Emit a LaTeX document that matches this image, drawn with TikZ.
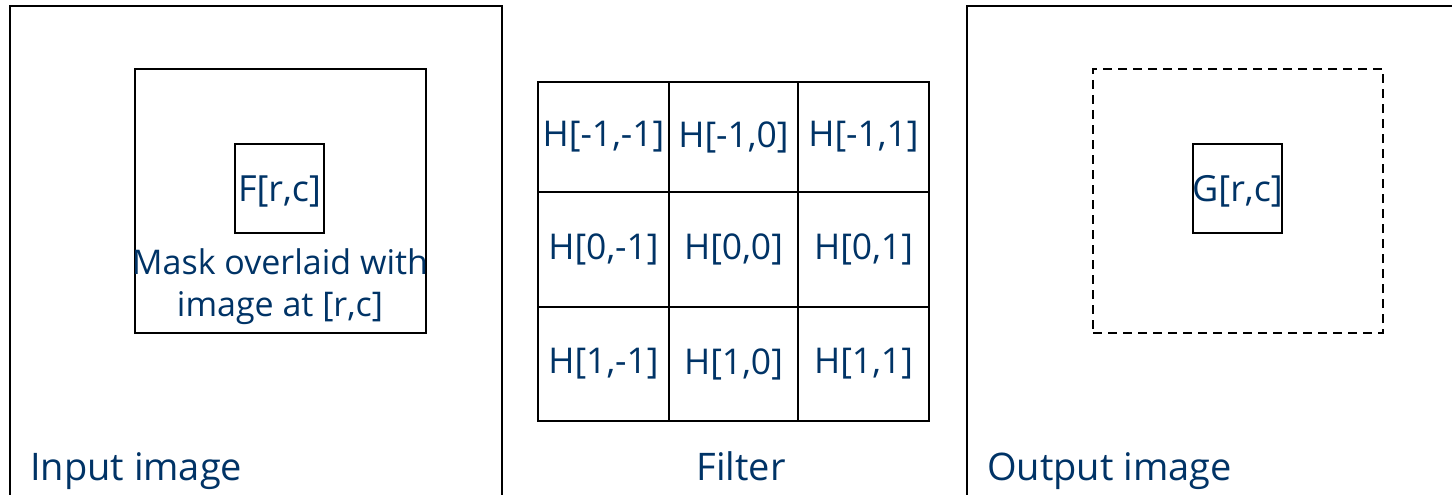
\documentclass[tikz,border=0pt]{standalone}
\usepackage{fontspec}
\setmainfont{Open Sans}
\definecolor{txtblue}{RGB}{0,51,102}
\tikzset{
  box/.style={draw=black, line width=2pt, inner sep=0pt},
  dbox/.style={draw=black, line width=2pt, dash pattern=on 9pt off 6pt, inner sep=0pt},
  lbl/.style={text=txtblue, font=\fontsize{36}{44}\selectfont, inner sep=0pt},
  big/.style={text=txtblue, font=\fontsize{38}{46}\selectfont, inner sep=0pt},
  cell/.style={box, text=txtblue, font=\fontsize{35.5}{42}\selectfont}
}
\begin{document}
\begin{tikzpicture}[x=1pt,y=-1pt]
\useasboundingbox (0,0) rectangle (1452,495);
\clip (0,0) rectangle (1452,495);
% Input image
\node[box, minimum width=492pt, minimum height=560pt, anchor=north west] (inimg) at (9,5) {};
\node[box, minimum width=291pt, minimum height=264pt] (mask) at (280.5,201) {};
\node[box, minimum width=89pt, minimum height=89pt] (fbox) at (279.5,188.5) {};
\node[lbl] (ftxt) at (279.5,191) {F[r,c]};
\node[lbl, align=center, font=\fontsize{34}{42}\selectfont] (masktxt) at (280,287) {Mask overlaid with\\image at [r,c]};
\node[big, anchor=base west] (inlbl) at (30,480) {Input image};
% Filter
\draw[line width=2pt] (538,82) rectangle (929,421);
\node[cell, minimum width=131pt, minimum height=110pt] (h11) at (603.5,137) {H[-1,-1]};
\node[cell, minimum width=129pt, minimum height=110pt] (h12) at (733.5,137) {H[-1,0]};
\node[cell, minimum width=131pt, minimum height=110pt] (h13) at (863.5,137) {H[-1,1]};
\node[cell, minimum width=131pt, minimum height=115pt] (h21) at (603.5,249.5) {H[0,-1]};
\node[cell, minimum width=129pt, minimum height=115pt] (h22) at (733.5,249.5) {H[0,0]};
\node[cell, minimum width=131pt, minimum height=115pt] (h23) at (863.5,249.5) {H[0,1]};
\node[cell, minimum width=131pt, minimum height=114pt] (h31) at (603.5,364) {H[1,-1]};
\node[cell, minimum width=129pt, minimum height=114pt] (h32) at (733.5,364) {H[1,0]};
\node[cell, minimum width=131pt, minimum height=114pt] (h33) at (863.5,364) {H[1,1]};
\node[big, anchor=base] (filtlbl) at (741,480) {Filter};
% Output image
\node[box, minimum width=600pt, minimum height=560pt, anchor=north west] (outimg) at (966,5) {};
\node[dbox, minimum width=290pt, minimum height=264pt] (omask) at (1238,201) {};
\node[box, minimum width=89pt, minimum height=89pt] (gbox) at (1237.5,188.5) {};
\node[lbl] (gtxt) at (1237.5,191) {G[r,c]};
\node[big, anchor=base west] (outlbl) at (987,480) {Output image};
\end{tikzpicture}
\end{document}
